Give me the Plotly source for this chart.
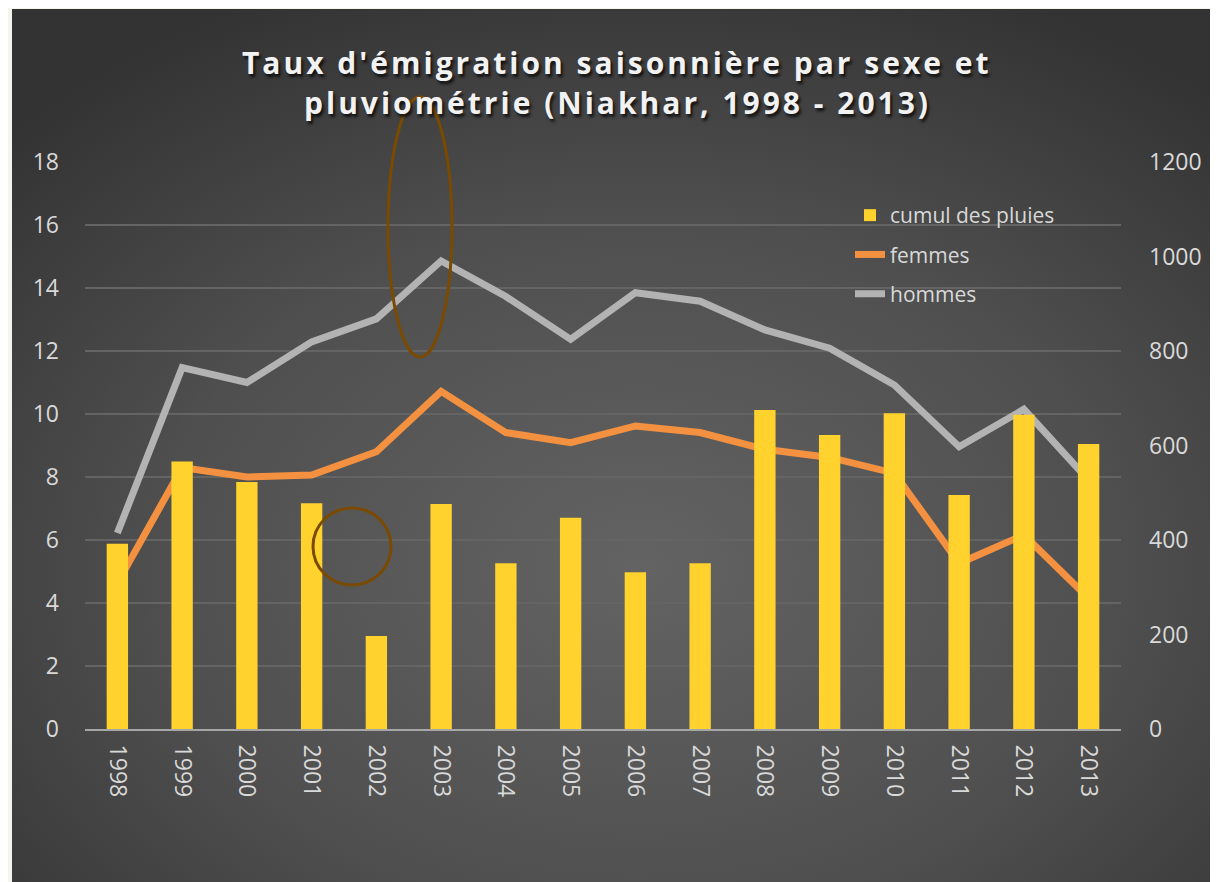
import base64
import plotly.graph_objects as go

years = ["1998", "1999", "2000", "2001", "2002", "2003", "2004", "2005",
         "2006", "2007", "2008", "2009", "2010", "2011", "2012", "2013"]
pluies = [392, 566, 523, 478, 197, 476, 351, 447, 332, 351, 675, 622, 668, 495, 665, 603]
femmes = [4.63, 8.30, 8.00, 8.06, 8.80, 10.72, 9.41, 9.09, 9.62, 9.41, 8.88, 8.62, 8.12, 5.26, 6.16, 4.15]
hommes = [6.22, 11.47, 11.00, 12.29, 13.02, 14.86, 13.73, 12.37, 13.85, 13.58, 12.67, 12.09, 10.92, 8.96, 10.15, 7.90]

left_ticks = list(range(0, 19, 2))
right_ticks = list(range(0, 1201, 200))

title_line1 = "Taux d'émigration saisonnière par sexe et"
title_line2 = "pluviométrie (Niakhar, 1998 - 2013)"

# the page body adds an 8px margin; the figure is sized to compensate
OFF = 8
W, H = 1218 - OFF, 882 - OFF
ML, MR, MT, MB = 85 - OFF, 97, 162 - OFF, 153
PW, PH = W - ML - MR, H - MT - MB


def px_x(p):
    return (p - OFF - ML) / PW


def px_y(p):
    return (H - MB - (p - OFF)) / PH


svg = """<svg xmlns='http://www.w3.org/2000/svg' width='1206' height='873' viewBox='0 0 1206 873' preserveAspectRatio='none'>
<defs><radialGradient id='g' cx='0.52' cy='0.64' r='0.72' fx='0.52' fy='0.64'>
<stop offset='0' stop-color='#636363'/><stop offset='0.55' stop-color='#4f4f4f'/><stop offset='1' stop-color='#333333'/>
</radialGradient></defs><rect width='1206' height='873' fill='url(#g)'/></svg>"""
bg_uri = "data:image/svg+xml;base64," + base64.b64encode(svg.encode()).decode()

tick_font = dict(family="Open Sans, sans-serif", size=23, color="#d9d9d9")
title_font = dict(family="Open Sans, sans-serif", size=30, color="#f2f2f2", weight="bold",
                  shadow="2px 3px 3px rgba(0,0,0,0.75)")

fig = go.Figure()
fig.add_trace(go.Bar(
    x=years, y=pluies, name="cumul des pluies", yaxis="y2",
    marker=dict(color="#ffd22e", line=dict(width=0)),
    width=0.33, legendgroup="a",
))
fig.add_trace(go.Scatter(
    x=years, y=femmes, name="femmes", mode="lines",
    line=dict(color="#f39140", width=7), legendgroup="b",
))
fig.add_trace(go.Scatter(
    x=years, y=hommes, name="hommes", mode="lines",
    line=dict(color="#b3b3b3", width=7), legendgroup="c",
))

spaced = '<span style="letter-spacing:3px">{}</span>'

fig.update_layout(
    width=W, height=H,
    margin=dict(l=ML, r=MR, t=MT, b=MB, pad=0),
    paper_bgcolor="#f5f5ed",
    plot_bgcolor="rgba(0,0,0,0)",
    xaxis=dict(
        type="category", tickangle=90, tickfont=tick_font,
        showline=True, linecolor="#a6a6a6", linewidth=2,
        showgrid=False, ticks="", ticklabelstandoff=9,
    ),
    yaxis=dict(
        range=[0, 18], tickvals=left_ticks, tickfont=tick_font,
        showgrid=True, gridcolor="#646464", gridwidth=1.5,
        zeroline=False, showline=False, ticks="", ticklabelstandoff=25,
    ),
    yaxis2=dict(
        range=[0, 1200], tickvals=right_ticks, tickfont=tick_font,
        overlaying="y", side="right", showgrid=False, zeroline=False,
        showline=False, ticks="", ticklabelstandoff=27,
    ),
    legend=dict(
        x=(842 - ML) / PW, y=(H - MB - 187) / PH, xanchor="left", yanchor="top",
        bgcolor="rgba(0,0,0,0)", font=dict(family="Open Sans, sans-serif", size=21, color="#d9d9d9"),
        traceorder="grouped", tracegroupgap=9,
    ),
    bargap=0.67,
    annotations=[
        dict(text=spaced.format(title_line1), xref="paper", yref="paper",
             x=(617 - OFF - ML) / PW, y=px_y(62), xanchor="center", yanchor="middle",
             showarrow=False, font=title_font),
        dict(text=spaced.format(title_line2), xref="paper", yref="paper",
             x=(617 - OFF - ML) / PW, y=px_y(103), xanchor="center", yanchor="middle",
             showarrow=False, font=title_font),
    ],
    images=[dict(
        source=bg_uri, xref="paper", yref="paper",
        x=px_x(12), y=px_y(9), sizex=px_x(1218) - px_x(12), sizey=px_y(9) - px_y(882),
        xanchor="left", yanchor="top", sizing="stretch", layer="below",
    )],
    shapes=[
        dict(type="circle", xref="paper", yref="paper",
             x0=px_x(388), x1=px_x(452), y0=px_y(357), y1=px_y(97),
             line=dict(color="#7a4a00", width=3)),
        dict(type="circle", xref="paper", yref="paper",
             x0=px_x(313), x1=px_x(391), y0=px_y(585), y1=px_y(508),
             line=dict(color="#7a4a00", width=3)),
    ],
)

fig.write_html("out.html")
